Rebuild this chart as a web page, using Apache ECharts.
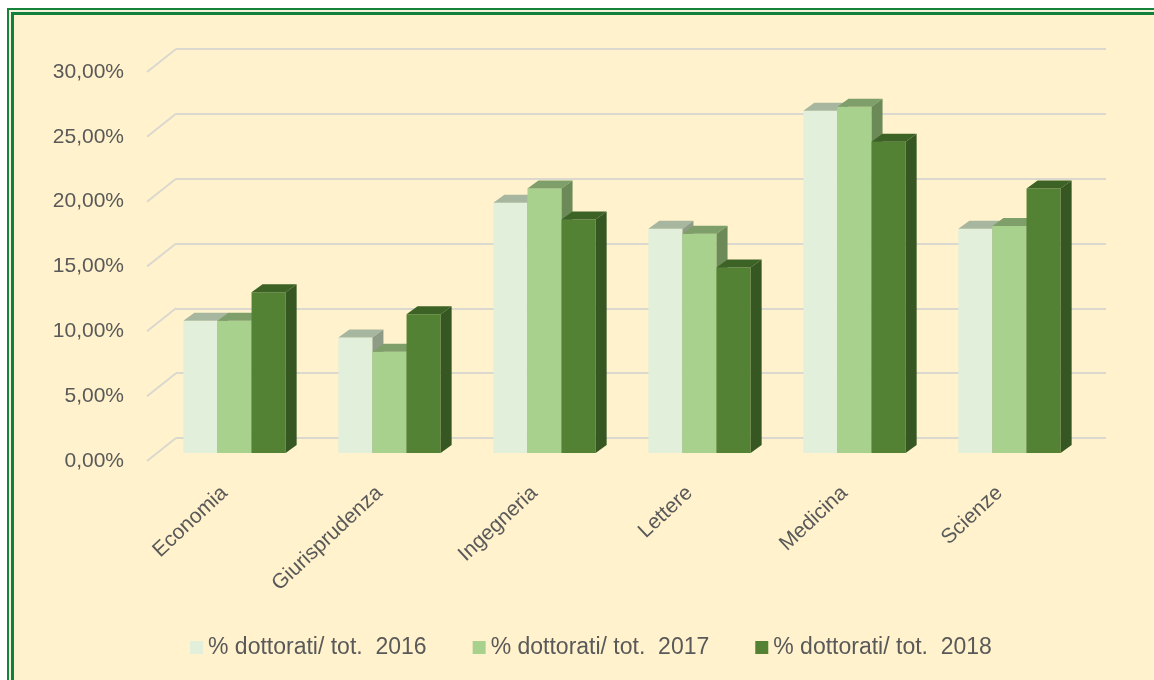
<!DOCTYPE html>
<html>
<head>
<meta charset="utf-8">
<title>% dottorati / totale</title>
<script src="https://cdn.jsdelivr.net/npm/echarts@6/dist/echarts.min.js"></script>
<style>
  html, body { margin: 0; padding: 0; background: #fff; }
  #chart { width: 1154px; height: 680px; }
</style>
</head>
<body>
<div id="chart"></div>
<script>
// data (percent)
const categories = ['Economia', 'Giurisprudenza', 'Ingegneria', 'Lettere', 'Medicina', 'Scienze'];
const seriesNames = ['% dottorati/ tot.  2016', '% dottorati/ tot.  2017', '% dottorati/ tot.  2018'];
const pct2016 = [10.2, 8.9, 19.3, 17.3, 26.4, 17.3];
const pct2017 = [10.2, 7.8, 20.4, 16.9, 26.7, 17.5];
const pct2018 = [12.4, 10.7, 18.0, 14.3, 24.0, 20.4];
const yTicks = [0, 5, 10, 15, 20, 25, 30];

// face colours: front, top, side
const faces = [
  ['#e2efda', '#a7b79f', '#8e9b87'],
  ['#a9d18e', '#7f9f6a', '#6b8a58'],
  ['#548235', '#3c6226', '#365622'],
];

const WALL = [29, -23];   // front plane -> back wall
const DEPTH = [11, -8];   // bar thickness
const FONT = '"Liberation Sans", Arial, sans-serif';
const TXT = '#595959';

const chart = echarts.init(document.getElementById('chart'));

function barItem(idx) {
  return function (params, api) {
    const i = api.value(0);
    const base = api.coord([i, 0]);
    const top = api.coord([i, api.value(1)]);
    const band = api.size([1, 0])[0];
    const w = band * 0.22;
    const x0 = base[0] - 1.5 * w + idx * w;
    const x1 = x0 + w;
    const c = faces[idx];
    return {
      type: 'group',
      children: [
        { type: 'rect', shape: { x: x0, y: top[1], width: w, height: base[1] - top[1] },
          style: { fill: c[0] } },
        { type: 'polygon', shape: { points: [[x0, top[1]], [x1, top[1]], [x1 + DEPTH[0], top[1] + DEPTH[1]], [x0 + DEPTH[0], top[1] + DEPTH[1]]] },
          style: { fill: c[1] } },
        { type: 'polygon', shape: { points: [[x1, top[1]], [x1, base[1]], [x1 + DEPTH[0], base[1] + DEPTH[1]], [x1 + DEPTH[0], top[1] + DEPTH[1]]] },
          style: { fill: c[2] } },
      ],
    };
  };
}

const allValues = [pct2016, pct2017, pct2018];

const option = {
  backgroundColor: '#fff',
  animation: false,
  graphic: [
    { type: 'rect', z: -10, shape: { x: 8, y: 9, width: 1200, height: 720 },
      style: { fill: '#f4f3dc', stroke: '#16823a', lineWidth: 2 } },
    { type: 'rect', z: -9, shape: { x: 12.5, y: 13.5, width: 1200, height: 720 },
      style: { fill: '#fff2cc', stroke: '#10803a', lineWidth: 3 } },
  ],
  textStyle: { fontFamily: FONT },
  legend: {
    left: 185,
    top: 631,
    itemWidth: 13,
    itemHeight: 13,
    itemGap: 46,
    icon: 'rect',
    textStyle: { color: TXT, fontSize: 23, fontFamily: FONT },
    data: seriesNames,
  },
  grid: [
    { left: 157, top: 64, width: 930, height: 389 },   // bars
    { left: 147, top: 72, width: 930, height: 389 },   // front plane (labels)
    { left: 176, top: 49, width: 930, height: 389 },   // back wall
  ],
  xAxis: [
    { gridIndex: 0, type: 'category', data: categories, show: false },
    { gridIndex: 1, type: 'category', data: categories,
      axisLine: { show: false }, axisTick: { show: false },
      axisLabel: { rotate: 43, margin: 29, color: TXT, fontSize: 21, fontFamily: FONT, interval: 0 } },
    { gridIndex: 2, type: 'value', min: 0, max: 1, show: false },
  ],
  yAxis: [
    { gridIndex: 0, type: 'value', min: yTicks[0], max: yTicks[yTicks.length - 1], interval: 5, show: false },
    { gridIndex: 1, type: 'value', min: yTicks[0], max: yTicks[yTicks.length - 1], interval: 5,
      axisLine: { show: false }, axisTick: { show: false }, splitLine: { show: false },
      axisLabel: { margin: 23, color: TXT, fontSize: 21, fontFamily: FONT,
        formatter: v => v.toFixed(2).replace('.', ',') + '%' } },
    { gridIndex: 2, type: 'value', min: yTicks[0], max: yTicks[yTicks.length - 1], interval: 5,
      axisLabel: { show: false }, axisLine: { show: false }, axisTick: { show: false },
      splitLine: { show: true, lineStyle: { color: '#dad8cf', width: 2 } } },
  ],
  series: [
    {
      type: 'custom', name: 'wall', xAxisIndex: 2, yAxisIndex: 2, z: 1, silent: true,
      data: yTicks.map(v => [0, v]),
      renderItem: (params, api) => {
        const p = api.coord([0, api.value(1)]);
        return { type: 'line', shape: { x1: p[0] - WALL[0], y1: p[1] - WALL[1], x2: p[0], y2: p[1] },
          style: { stroke: '#dad8cf', lineWidth: 2 } };
      },
    },
  ].concat(seriesNames.map((name, k) => ({
    type: 'custom',
    name: name,
    xAxisIndex: 0,
    yAxisIndex: 0,
    z: 3 + k,
    itemStyle: { color: faces[k][0] },
    data: allValues[k].map((v, i) => [i, v]),
    renderItem: barItem(k),
  }))),
};

chart.setOption(option);
</script>
</body>
</html>
